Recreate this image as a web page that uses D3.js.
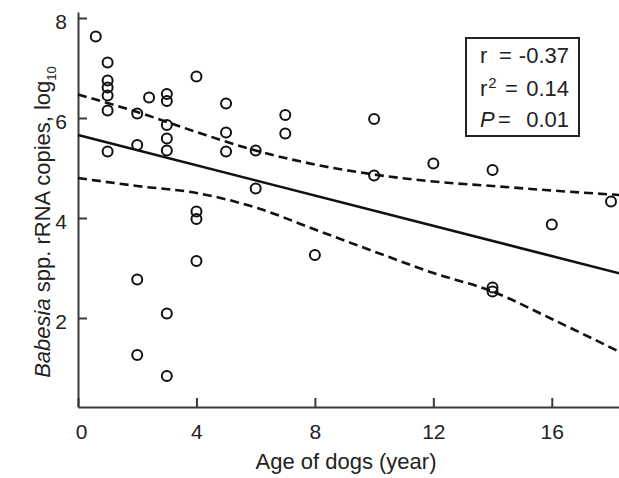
<!DOCTYPE html>
<html>
<head>
<meta charset="utf-8">
<script src="https://cdn.jsdelivr.net/npm/d3@7/dist/d3.min.js"></script>
<style>
  html, body { margin: 0; padding: 0; background: #fff; }
  svg { display: block; font-family: "Liberation Sans", Arial, sans-serif; }
</style>
</head>
<body>
<svg id="chart" width="619" height="478"></svg>
<script>
// ---- data ----
const ageYears = [0.6, 1, 1, 1, 1, 1, 1, 2, 2, 2, 2, 2.4, 3, 3, 3, 3, 3, 3, 3, 4, 4, 4, 4, 5, 5, 5, 6, 6, 7, 7, 8, 10, 10, 12, 14, 14, 14, 16, 18];
const copiesLog = [7.63, 7.11, 6.75, 6.61, 6.45, 6.15, 5.33, 6.09, 5.46, 2.77, 1.26, 6.41, 6.48, 6.34, 5.86, 5.59, 5.35, 2.09, 0.84, 6.83, 4.13, 3.98, 3.14, 6.29, 5.71, 5.33, 5.35, 4.59, 6.06, 5.69, 3.26, 5.98, 4.85, 5.09, 4.96, 2.61, 2.53, 3.87, 4.33];

const fitX = [0, 18.3];
const fitY = [5.66, 2.89];

const bandX = [0, 2, 4, 6, 8, 10, 12, 14, 16, 18.3];
const upperY = [6.47, 6.12, 5.72, 5.35, 5.07, 4.87, 4.73, 4.64, 4.55, 4.46];
const lowerY = [4.80, 4.64, 4.50, 4.21, 3.77, 3.33, 2.90, 2.53, 1.98, 1.32];

const xTicks = [0, 4, 8, 12, 16];
const yTicks = [2, 4, 6, 8];

const statLabels = ["r", "r", "P"];
const statValues = ["-0.37", "0.14", "0.01"];

// ---- drawing ----
const svg = d3.select("#chart");
const ink = "#222";
const axisInk = "#3a3a3a";

const x = d3.scaleLinear().domain([0, 18.27]).range([78, 619]);
const y = d3.scaleLinear().domain([0.22, 8.12]).range([407, 12]);

// axes
const xAxis = d3.axisBottom(x).tickValues(xTicks).tickSizeInner(-9).tickSizeOuter(0).tickPadding(17);
const yAxis = d3.axisLeft(y).tickValues(yTicks).tickSizeInner(-9).tickSizeOuter(0).tickPadding(11);

const gx = svg.append("g").attr("transform", `translate(0,${y.range()[0]})`).call(xAxis);
const gy = svg.append("g").attr("transform", `translate(${x.range()[0]},0)`).call(yAxis);

[gx, gy].forEach(g => {
  g.select(".domain").attr("stroke", axisInk).attr("stroke-width", 2);
  g.selectAll(".tick line").attr("stroke", axisInk).attr("stroke-width", 2);
  g.selectAll(".tick text").attr("fill", ink).attr("font-size", 21)
    .attr("font-family", "'Liberation Sans', Arial, sans-serif");
});
gx.selectAll(".tick text").attr("dx", d => d === 0 ? 3 : 0);
gy.selectAll(".tick text").attr("dy", "0.48em");

// confidence band lines
const line = d3.line().x(d => x(d[0])).y(d => y(d[1])).curve(d3.curveMonotoneX);
const upperPts = bandX.map((v, i) => [v, upperY[i]]);
const lowerPts = bandX.map((v, i) => [v, lowerY[i]]);

[upperPts, lowerPts].forEach(pts => {
  svg.append("path").datum(pts).attr("d", line)
    .attr("fill", "none").attr("stroke", "#111").attr("stroke-width", 2.6)
    .attr("stroke-dasharray", "9,5");
});

// regression line
svg.append("path").datum(fitX.map((v, i) => [v, fitY[i]]))
  .attr("d", d3.line().x(d => x(d[0])).y(d => y(d[1])))
  .attr("fill", "none").attr("stroke", "#111").attr("stroke-width", 2.6);

// points
svg.append("g").selectAll("circle")
  .data(ageYears.map((v, i) => [v, copiesLog[i]]))
  .join("circle")
  .attr("cx", d => x(d[0])).attr("cy", d => y(d[1])).attr("r", 5)
  .attr("fill", "none").attr("stroke", "#111").attr("stroke-width", 2);

// stats box
svg.append("rect").attr("x", 466).attr("y", 38).attr("width", 113).attr("height", 98)
  .attr("fill", "#fff").attr("stroke", ink).attr("stroke-width", 2);

const baselines = [63, 96, 127];
const eqX = [499, 505, 498];
const g = svg.append("g").attr("fill", ink).attr("font-size", 22);
statLabels.forEach((lab, i) => {
  const t = g.append("text").attr("x", 480).attr("y", baselines[i]);
  if (i === 2) t.attr("font-style", "italic").text(lab);
  else t.text(lab);
  if (i === 1) t.append("tspan").attr("font-size", 15).attr("dx", 1).attr("dy", -8).text("2");
  g.append("text").attr("x", eqX[i]).attr("y", baselines[i]).text("=");
  g.append("text").attr("x", 569).attr("y", baselines[i]).attr("text-anchor", "end").text(statValues[i]);
});

// axis titles
svg.append("text").attr("x", 346).attr("y", 469).attr("text-anchor", "middle")
  .attr("font-size", 22).attr("fill", ink).text("Age of dogs (year)");

const yl = svg.append("text").attr("transform", "translate(50,222) rotate(-90)")
  .attr("text-anchor", "middle").attr("font-size", 22).attr("fill", ink);
yl.append("tspan").attr("font-style", "italic").text("Babesia");
yl.append("tspan").text(" spp. rRNA copies, log");
yl.append("tspan").attr("font-size", 13).attr("dy", 6).text("10");
</script>
</body>
</html>
